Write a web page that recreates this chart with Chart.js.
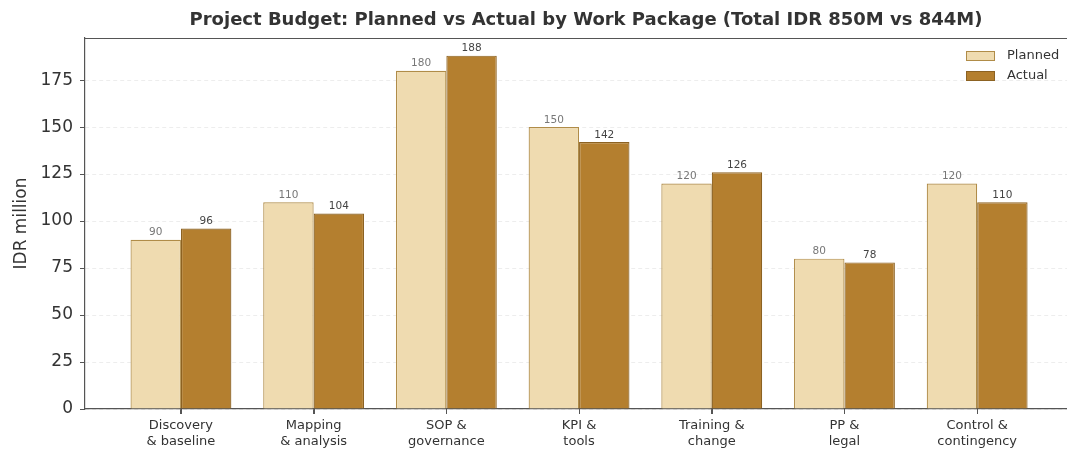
<!DOCTYPE html>
<html>
<head>
<meta charset="utf-8">
<script src="https://cdn.jsdelivr.net/npm/chart.js@4.4.1/dist/chart.umd.min.js"></script>
<style>
html,body{margin:0;padding:0;background:#fff;}
#wrap{width:1067px;height:453px;}
</style>
</head>
<body>
<div id="wrap"><canvas id="c" width="1067" height="453"></canvas></div>
<script>
const categories = [
  ["Discovery", "& baseline"],
  ["Mapping", "& analysis"],
  ["SOP &", "governance"],
  ["KPI &", "tools"],
  ["Training &", "change"],
  ["PP &", "legal"],
  ["Control &", "contingency"]
];
const planned = [90, 110, 180, 150, 120, 80, 120];
const actual = [96, 104, 188, 142, 126, 78, 110];
const yTicks = [0, 25, 50, 75, 100, 125, 150, 175];
const titleText = "Project Budget: Planned vs Actual by Work Package (Total IDR 850M vs 844M)";
const yTitle = "IDR million";

const FONT = "'DejaVu Sans', sans-serif";
const plannedFill = "#EFDBB0", plannedEdge = "#B08C48";
const actualFill = "#B47F2F", actualEdge = "#8C6222";

const extras = {
  id: 'extras',
  afterDraw(chart) {
    const ctx = chart.ctx, a = chart.chartArea;
    ctx.save();
    // top spine
    ctx.strokeStyle = '#555';
    ctx.lineWidth = 1.2;
    ctx.beginPath();
    ctx.moveTo(a.left, a.top + 0.5);
    ctx.lineTo(a.right, a.top + 0.5);
    ctx.stroke();
    // x tick marks at category centres
    const xs = chart.scales.x;
    ctx.lineWidth = 1;
    categories.forEach((_, i) => {
      const px = Math.round(xs.getPixelForValue(i)) + 0.5;
      ctx.beginPath();
      ctx.moveTo(px, a.bottom);
      ctx.lineTo(px, a.bottom + 5);
      ctx.stroke();
    });
    // title
    ctx.fillStyle = '#333';
    ctx.font = "bold 18px " + FONT;
    ctx.textAlign = 'center';
    ctx.textBaseline = 'middle';
    ctx.fillText(titleText, 586, 20);
    // value labels
    ctx.font = "10.5px " + FONT;
    ctx.textBaseline = 'bottom';
    chart.data.datasets.forEach((ds, di) => {
      const meta = chart.getDatasetMeta(di);
      ctx.fillStyle = di === 0 ? '#777' : '#444';
      meta.data.forEach((bar, i) => {
        ctx.fillText(String(ds.data[i].y), bar.x, bar.y - 2);
      });
    });
    // legend
    const items = [
      {label: 'Planned', fill: plannedFill, edge: plannedEdge, y: 51},
      {label: 'Actual', fill: actualFill, edge: actualEdge, y: 71}
    ];
    ctx.font = "13px " + FONT;
    ctx.textAlign = 'left';
    ctx.textBaseline = 'middle';
    items.forEach(it => {
      ctx.fillStyle = it.fill;
      ctx.fillRect(966, it.y, 29, 10);
      ctx.strokeStyle = it.edge;
      ctx.lineWidth = 1;
      ctx.strokeRect(966.5, it.y + 0.5, 28, 9);
      ctx.fillStyle = '#333';
      ctx.fillText(it.label, 1007, it.y + 5);
    });
    ctx.restore();
  }
};

new Chart(document.getElementById('c'), {
  type: 'bar',
  data: {
    datasets: [
      {
        label: 'Planned',
        data: planned.map((v, i) => ({x: i, y: v})),
        backgroundColor: plannedFill,
        borderColor: plannedEdge,
        borderWidth: 1.2,
        categoryPercentage: 0.76,
        barPercentage: 1.0
      },
      {
        label: 'Actual',
        data: actual.map((v, i) => ({x: i, y: v})),
        backgroundColor: actualFill,
        borderColor: actualEdge,
        borderWidth: 1.2,
        categoryPercentage: 0.76,
        barPercentage: 1.0
      }
    ]
  },
  options: {
    responsive: false,
    animation: false,
    events: [],
    layout: {padding: {top: 38, right: 0, left: 0, bottom: 0}},
    plugins: {
      legend: {display: false},
      title: {display: false},
      tooltip: {enabled: false}
    },
    scales: {
      x: {
        type: 'linear',
        min: -0.723,
        max: 6.677,
        offset: false,
        afterBuildTicks(scale) {
          scale.ticks = categories.map((_, i) => ({value: i}));
        },
        afterFit(scale) { scale.height = 44; },
        ticks: {
          autoSkip: false,
          maxRotation: 0,
          color: '#333',
          font: {family: FONT, size: 13},
          padding: 4,
          callback: (v) => categories[v]
        },
        grid: {
          offset: false,
          drawOnChartArea: false,
          drawTicks: true,
          tickLength: 5,
          tickColor: '#555'
        },
        border: {display: true, color: '#555', width: 1.2}
      },
      y: {
        min: 0,
        max: 197.4,
        afterBuildTicks(scale) {
          scale.ticks = yTicks.map(v => ({value: v}));
        },
        afterFit(scale) { scale.width = 85; },
        ticks: {
          color: '#333',
          font: {family: FONT, size: 17},
          padding: 7
        },
        title: {
          display: true,
          text: yTitle,
          color: '#333',
          font: {family: FONT, size: 17},
          padding: {top: 11, bottom: 0}
        },
        grid: {
          color: 'rgba(0,0,0,0.07)',
          tickColor: '#555',
          tickLength: 5,
          lineWidth: 1
        },
        border: {display: true, color: '#555', width: 1.2, dash: [4, 3]}
      }
    }
  },
  plugins: [extras]
});
</script>
</body>
</html>
